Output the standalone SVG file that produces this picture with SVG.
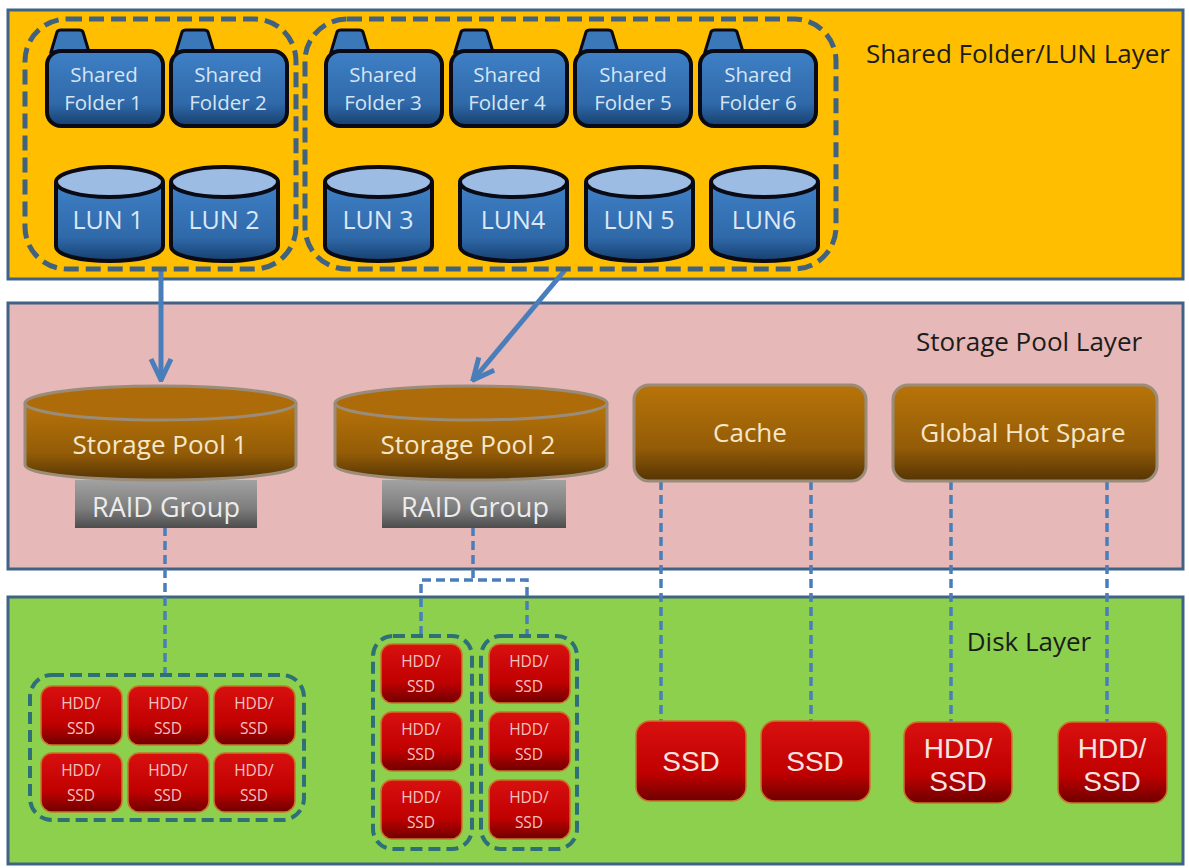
<svg xmlns="http://www.w3.org/2000/svg" width="1189" height="868" viewBox="0 0 1189 868">
<style>
text{font-family:"Open Sans","Noto Sans","Liberation Sans",sans-serif;text-anchor:middle}
.layer{stroke:#3f6286;stroke-width:3}
.ltxt{fill:#1c1c1c;font-size:26px}
.fold{fill:url(#blue);stroke:#0a0a14;stroke-width:4}
.ftxt{fill:#d5e4f4;font-size:20.500px}
.ltop{fill:#9dbce4;stroke:#0a0a14;stroke-width:4}
.lun{fill:url(#blue);stroke:#0a0a14;stroke-width:4}
.lntxt{fill:#dbe8f6;font-size:25px}
.grp{fill:none;stroke:#41627f;stroke-width:5;stroke-dasharray:15 7}
.grp2{fill:none;stroke:#2e7077;stroke-width:4;stroke-dasharray:12 6}
.pool{fill:url(#brown);stroke:#9a8c78;stroke-width:3}
.ptop{fill:#ad6c09;stroke:#9a8c78;stroke-width:3}
.ptxt{fill:#f6e7c8;font-size:26px}
.raid{fill:url(#gray)}
.rtxt{fill:#ececec;font-size:27px}
.dash{fill:none;stroke:#4a7ebb;stroke-width:3.500;stroke-dasharray:9 5}
.arrow{fill:none;stroke:#4a7ebb;stroke-width:5}
.disk{fill:url(#red);stroke:#c8752a;stroke-width:1.500}
.dtxt{fill:#f4c3c0;font-size:15.500px}
text.btxt{fill:#f8e3e0;font-size:28px;font-family:"Liberation Sans",Arial,sans-serif}
</style>
<defs>
<linearGradient id="blue" x1="0" y1="0" x2="0" y2="1"><stop offset="0" stop-color="#3f80c6"/><stop offset="0.7" stop-color="#2f69a9"/><stop offset="1" stop-color="#173f6f"/></linearGradient>
<linearGradient id="brown" x1="0" y1="0" x2="0" y2="1"><stop offset="0" stop-color="#b87409"/><stop offset="0.65" stop-color="#945c07"/><stop offset="1" stop-color="#553404"/></linearGradient>
<linearGradient id="gray" x1="0" y1="0" x2="0" y2="1"><stop offset="0" stop-color="#a2a2a2"/><stop offset="0.6" stop-color="#7d7d7d"/><stop offset="1" stop-color="#4d4d4d"/></linearGradient>
<linearGradient id="red" x1="0" y1="0" x2="0" y2="1"><stop offset="0" stop-color="#d91010"/><stop offset="0.65" stop-color="#c00000"/><stop offset="1" stop-color="#6f0000"/></linearGradient>
<path id="tab" d="M-1 22 L5 2 Q6 0 9 0 L27 0 Q30 0 31 2 L37 22 Z" fill="#3a78ba" stroke="#0a0a14" stroke-width="3"/>
<path id="lunb" d="M0 18 L0 81 C0 101 107 101 107 81 L107 18"/>
<ellipse id="lunt" cx="53.500" cy="17" rx="53.500" ry="15"/>
<g id="d"><rect class="disk" x="0" y="0" width="81" height="59" rx="11"/><text class="dtxt" x="40" y="23">HDD/</text><text class="dtxt" x="40" y="48">SSD</text></g>
<marker id="ah" markerUnits="userSpaceOnUse" viewBox="0 0 26 26" refX="24" refY="13" markerWidth="26" markerHeight="26" orient="auto"><path d="M3 3 L24 13 L3 23" fill="none" stroke="#4a7ebb" stroke-width="5"/></marker>
</defs>
<rect width="1189" height="868" fill="#fff"/>
<g id="layer-shared"><rect class="layer" x="8" y="10" width="1175" height="269" fill="#ffbe00"/><text class="ltxt" x="1018" y="63">Shared Folder/LUN Layer</text></g>
<g id="layer-pool"><rect class="layer" x="8" y="303" width="1175" height="266" fill="#e6b8b7"/><text class="ltxt" x="1029" y="351">Storage Pool Layer</text></g>
<g id="layer-disk"><rect class="layer" x="8" y="597" width="1175" height="267" fill="#8dd04e"/><text class="ltxt" x="1029" y="651">Disk Layer</text></g>
<g id="connectors">
<path class="arrow" d="M161 270 L161 380" marker-end="url(#ah)"/>
<path class="arrow" d="M565 270 L473 380" marker-end="url(#ah)"/>
<path class="dash" d="M165 527 V674"/>
<path class="dash" d="M473 527 V580 M421 635 V580 H527 V635"/>
<path class="dash" d="M661 481 V721 M811 481 V721 M951 481 V722 M1107 481 V722"/>
</g>
<g id="group-a"><rect class="grp" x="25" y="19" width="271" height="250" rx="42"/></g>
<g id="group-b"><rect class="grp" x="305" y="19" width="531" height="250" rx="42"/></g>
<g id="folder1"><use href="#tab" x="52" y="30"/><rect class="fold" x="47" y="51" width="116" height="75" rx="14"/><text class="ftxt" x="104" y="82">Shared</text><text class="ftxt" x="103" y="110">Folder 1</text></g>
<g id="folder2"><use href="#tab" x="177" y="30"/><rect class="fold" x="171" y="51" width="116" height="75" rx="14"/><text class="ftxt" x="228" y="82">Shared</text><text class="ftxt" x="228" y="110">Folder 2</text></g>
<g id="folder3"><use href="#tab" x="332" y="30"/><rect class="fold" x="326" y="51" width="116" height="75" rx="14"/><text class="ftxt" x="383" y="82">Shared</text><text class="ftxt" x="383" y="110">Folder 3</text></g>
<g id="folder4"><use href="#tab" x="456" y="30"/><rect class="fold" x="451" y="51" width="116" height="75" rx="14"/><text class="ftxt" x="507" y="82">Shared</text><text class="ftxt" x="507" y="110">Folder 4</text></g>
<g id="folder5"><use href="#tab" x="581" y="30"/><rect class="fold" x="575" y="51" width="116" height="75" rx="14"/><text class="ftxt" x="633" y="82">Shared</text><text class="ftxt" x="633" y="110">Folder 5</text></g>
<g id="folder6"><use href="#tab" x="706" y="30"/><rect class="fold" x="700" y="51" width="116" height="75" rx="14"/><text class="ftxt" x="758" y="82">Shared</text><text class="ftxt" x="758" y="110">Folder 6</text></g>
<g id="lun1" transform="translate(56 165)"><use href="#lunb" class="lun"/><use href="#lunt" class="ltop"/><text class="lntxt" x="52" y="64">LUN 1</text></g>
<g id="lun2" transform="translate(171 165)"><use href="#lunb" class="lun"/><use href="#lunt" class="ltop"/><text class="lntxt" x="53" y="64">LUN 2</text></g>
<g id="lun3" transform="translate(325 165)"><use href="#lunb" class="lun"/><use href="#lunt" class="ltop"/><text class="lntxt" x="53" y="64">LUN 3</text></g>
<g id="lun4" transform="translate(460 165)"><use href="#lunb" class="lun"/><use href="#lunt" class="ltop"/><text class="lntxt" x="53" y="64">LUN4</text></g>
<g id="lun5" transform="translate(586 165)"><use href="#lunb" class="lun"/><use href="#lunt" class="ltop"/><text class="lntxt" x="53" y="64">LUN 5</text></g>
<g id="lun6" transform="translate(711 165)"><use href="#lunb" class="lun"/><use href="#lunt" class="ltop"/><text class="lntxt" x="53" y="64">LUN6</text></g>
<g id="raid1"><rect class="raid" x="75" y="480" width="182" height="48"/><text class="rtxt" x="166" y="517">RAID  Group</text></g>
<g id="raid2"><rect class="raid" x="382" y="480" width="184" height="48"/><text class="rtxt" x="475" y="517">RAID  Group</text></g>
<g id="pool1"><path class="pool" d="M25 403 V465 C25 485 296 485 296 465 V403"/><ellipse class="ptop" cx="160.500" cy="403" rx="135.500" ry="17"/><text class="ptxt" x="160" y="454">Storage Pool 1</text></g>
<g id="pool2"><path class="pool" d="M335 403 V465 C335 485 607 485 607 465 V403"/><ellipse class="ptop" cx="471" cy="403" rx="136" ry="17"/><text class="ptxt" x="468" y="454">Storage Pool 2</text></g>
<g id="cache"><rect class="pool" x="634" y="385" width="232" height="96" rx="15"/><text class="ptxt" x="750" y="442">Cache</text></g>
<g id="spare"><rect class="pool" x="893" y="385" width="264" height="96" rx="15"/><text class="ptxt" x="1023" y="442">Global Hot Spare</text></g>
<g id="group-c"><rect class="grp2" x="30" y="675" width="274" height="145" rx="22"/></g>
<g id="group-d"><rect class="grp2" x="373" y="636" width="99" height="213" rx="20"/></g>
<g id="group-e"><rect class="grp2" x="481" y="636" width="96" height="213" rx="20"/></g>
<g id="disk1"><use href="#d" x="41" y="686"/></g>
<g id="disk2"><use href="#d" x="128" y="686"/></g>
<g id="disk3"><use href="#d" x="214" y="686"/></g>
<g id="disk4"><use href="#d" x="41" y="753"/></g>
<g id="disk5"><use href="#d" x="128" y="753"/></g>
<g id="disk6"><use href="#d" x="214" y="753"/></g>
<g id="disk7"><use href="#d" x="381" y="644"/></g>
<g id="disk8"><use href="#d" x="381" y="712"/></g>
<g id="disk9"><use href="#d" x="381" y="780"/></g>
<g id="disk10"><use href="#d" x="489" y="644"/></g>
<g id="disk11"><use href="#d" x="489" y="712"/></g>
<g id="disk12"><use href="#d" x="489" y="780"/></g>
<g id="ssd1"><rect class="disk" x="636" y="721" width="110" height="80" rx="14"/><text class="btxt" x="691" y="771">SSD</text></g>
<g id="ssd2"><rect class="disk" x="761" y="721" width="109" height="80" rx="14"/><text class="btxt" x="815" y="771">SSD</text></g>
<g id="ssd3"><rect class="disk" x="904" y="722" width="108" height="81" rx="14"/><text class="btxt" x="958" y="758">HDD/</text><text class="btxt" x="958" y="791">SSD</text></g>
<g id="ssd4"><rect class="disk" x="1058" y="722" width="109" height="81" rx="14"/><text class="btxt" x="1112" y="758">HDD/</text><text class="btxt" x="1112" y="791">SSD</text></g>
</svg>
